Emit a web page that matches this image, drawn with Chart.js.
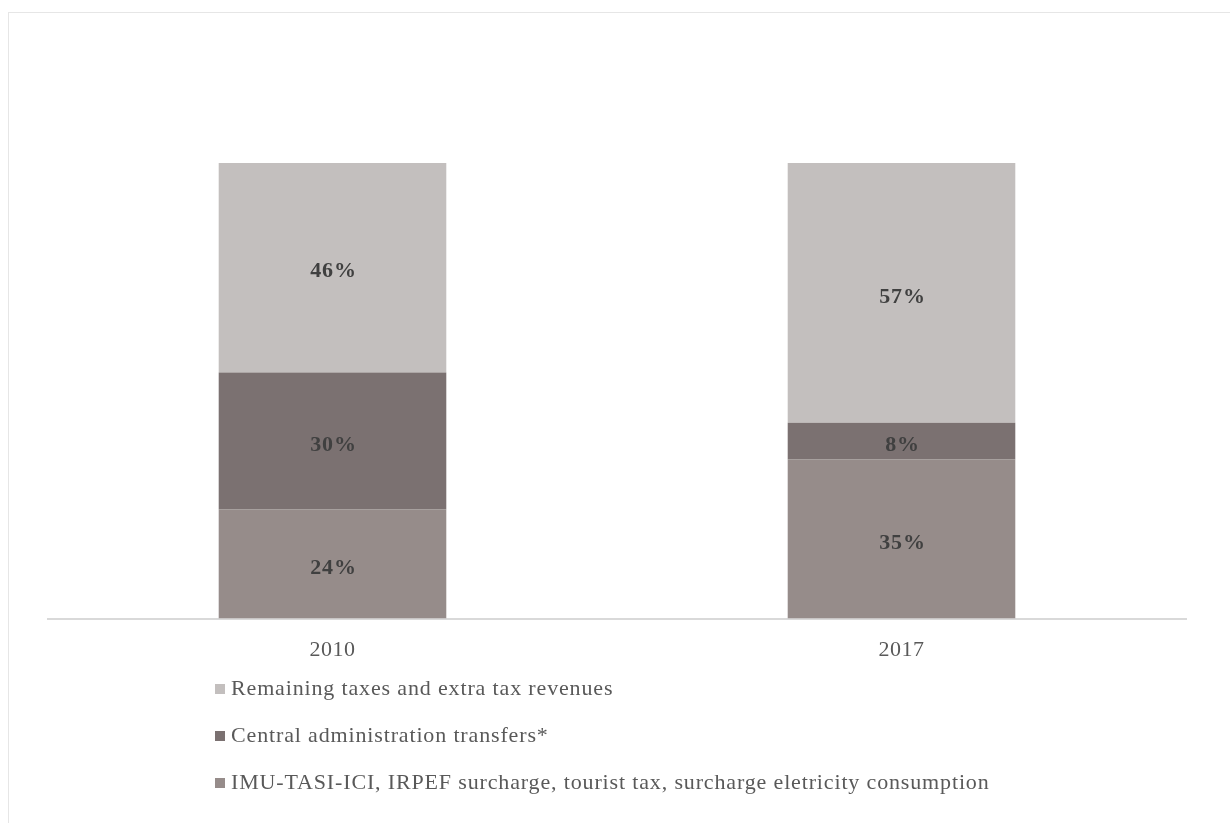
<!DOCTYPE html>
<html>
<head>
<meta charset="utf-8">
<script src="https://cdn.jsdelivr.net/npm/chart.js@4/dist/chart.umd.min.js"></script>
<style>
	html, body { margin: 0; padding: 0; background: #ffffff; }
	#wrap { position: relative; width: 1230px; height: 823px; overflow: hidden; }
	#frame { position: absolute; left: 8px; top: 12px; width: 1240px; height: 830px; border: 1px solid #e6e6e6; box-sizing: border-box; }
	#chart-canvas { position: absolute; left: 0; top: 0; }
	#legend { position: absolute; left: 215px; top: 675px; font-family: 'Liberation Serif', 'Times New Roman', serif; font-size: 22px; letter-spacing: 0.85px; color: #595959; }
	#legend div { height: 47px; line-height: 26px; white-space: nowrap; }
	#legend span.box { display: inline-block; width: 10px; height: 10px; margin-right: 6px; vertical-align: 1px; }
</style>
</head>
<body>
<div id="wrap">
	<div id="frame"></div>
	<canvas id="chart-canvas" width="1230" height="823"></canvas>
	<div id="legend"></div>
</div>
<script>
// Categories and series (percent shares)
var years = ['2010', '2017'];
var series_names = ['IMU-TASI-ICI, IRPEF surcharge, tourist tax, surcharge eletricity consumption',
					'Central administration transfers*',
					'Remaining taxes and extra tax revenues'];
var imu_values = [24, 35];
var central_values = [30, 8];
var remaining_values = [46, 57];
var series_colors = ['#968c8a', '#7b7171', '#c3bfbe'];

// Slightly wider text spacing, like the original
var letterSpacing = {
	id: 'letterSpacing',
	beforeDraw: function(chart) { chart.ctx.letterSpacing = '0.5px'; }
};

// Draw the percent label in the middle of each bar segment
var segmentLabels = {
	id: 'segmentLabels',
	afterDatasetsDraw: function(chart) {
		var ctx = chart.ctx;
		ctx.save();
		ctx.letterSpacing = '0.8px';
		ctx.font = 'bold 22px "Liberation Serif", "Times New Roman", serif';
		ctx.fillStyle = '#404040';
		ctx.textAlign = 'center';
		ctx.textBaseline = 'middle';
		chart.data.datasets.forEach(function(ds, i) {
			var meta = chart.getDatasetMeta(i);
			meta.data.forEach(function(bar, j) {
				var p = bar.getCenterPoint();
				ctx.fillText(ds.data[j] + '%', p.x + 1, p.y + 4);
			});
		});
		ctx.restore();
	}
};

var aDatasets = [
	{ label: series_names[0], data: imu_values, backgroundColor: series_colors[0] },
	{ label: series_names[1], data: central_values, backgroundColor: series_colors[1] },
	{ label: series_names[2], data: remaining_values, backgroundColor: series_colors[2] }
];

var ctx = document.getElementById('chart-canvas');
var cfg = {
	type: 'bar',
	data: { labels: years, datasets: aDatasets },
	options: {
		responsive: false,
		animation: false,
		layout: { padding: { left: 48, right: 44, top: 163, bottom: 150 } },
		datasets: { bar: { barPercentage: 0.4, categoryPercentage: 1.0 } },
		plugins: {
			legend: { display: false },
			tooltip: { enabled: false }
		},
		scales: {
			x: {
				stacked: true,
				grid: { display: false },
				border: { color: '#d9d9d9', width: 2 },
				ticks: { color: '#595959', padding: 10,
						 font: { family: "'Liberation Serif', 'Times New Roman', serif", size: 22 } }
			},
			y: {
				stacked: true,
				display: false,
				min: 0,
				max: 100
			}
		}
	},
	plugins: [letterSpacing, segmentLabels]
};
var chart = new Chart(ctx, cfg);

// Vertical legend below the axis, top series first
var legend = document.getElementById('legend');
chart.data.datasets.slice().reverse().forEach(function(ds) {
	var row = document.createElement('div');
	var box = document.createElement('span');
	box.className = 'box';
	box.style.background = ds.backgroundColor;
	row.appendChild(box);
	row.appendChild(document.createTextNode(ds.label));
	legend.appendChild(row);
});
</script>
</body>
</html>
